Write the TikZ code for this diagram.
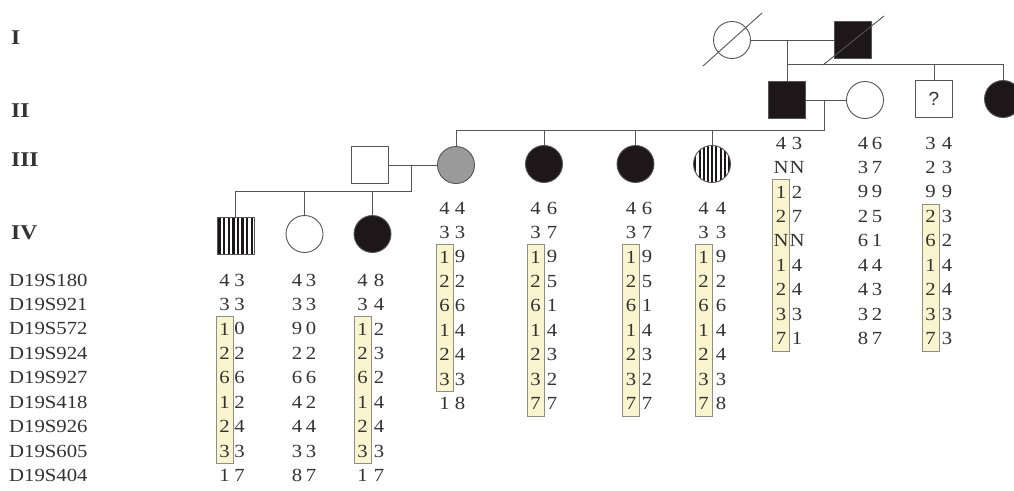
\documentclass[tikz,border=0pt]{standalone}
\usepackage{fontspec}
\setmainfont[FakeStretch=1.12]{Liberation Serif}
\newfontfamily\qfont{Liberation Sans}
\definecolor{lineC}{HTML}{555555}
\definecolor{affC}{HTML}{1E1719}
\definecolor{greyC}{HTML}{9A9A9A}
\definecolor{txtC}{HTML}{333333}
\definecolor{boxF}{HTML}{FAF4CF}
\definecolor{boxD}{HTML}{8E8E84}
\newcommand\hapcol[5]{%
  \foreach \a/\b [count=\i] in {#5} {
    \node[txt] (#1l\i) at (#2, {#4+24.45*(\i-1)}) {\a};
    \node[txt] (#1r\i) at (#3, {#4+24.45*(\i-1)}) {\b};
  }}
\newcommand\hbx[4]{%
  \draw[hbox] ({#1-8.5}, {#2+24.45*(#3-1)-12.5}) rectangle ({#1+8.5}, {#2+24.45*(#4-1)+12.5});}
\begin{document}
\begin{tikzpicture}[x=1pt,y=-1pt,
  ln/.style={draw=lineC, line width=0.9pt},
  sq/.style={rectangle, draw=lineC, line width=0.9pt, minimum size=37pt, inner sep=0pt},
  ci/.style={circle, draw=lineC, line width=0.9pt, minimum size=37pt, inner sep=0pt},
  aff/.style={fill=affC},
  txt/.style={inner sep=0pt, text=txtC, font=\fontsize{18.5}{18.5}\selectfont},
  gen/.style={inner sep=0pt, text=txtC, font=\fontsize{21}{21}\selectfont\bfseries, anchor=west},
  hbox/.style={fill=boxF, draw=boxD, line width=0.7pt}]
\useasboundingbox (0,0) rectangle (1014,490);

% generation labels
\node[gen] (gI) at (11,38) {I};
\node[gen] (gII) at (11,111) {II};
\node[gen] (gIII) at (11,160) {III};
\node[gen] (gIV) at (11,233) {IV};

% marker labels
\foreach \m [count=\i] in {D19S180,D19S921,D19S572,D19S924,D19S927,D19S418,D19S926,D19S605,D19S404}
  \node[txt, anchor=west] (mk\i) at (9, {280+24.45*(\i-1)}) {\m};

% generation I
\node[ci] (I1) at (732,40) {};
\node[sq, aff] (I2) at (853,40) {};
\draw[ln] (703,66) -- (762,13);
\draw[ln] (823,65) -- (884,16);
\coordinate (m1) at (787,40);
\coordinate (s1) at (787,64);
\coordinate (s1r) at (1003,64);
\draw[ln] (I1.east) -- (I2.west);

% generation II
\node[sq, aff] (II1) at (787,100) {};
\node[ci] (II2) at (865,100) {};
\node[sq, font=\qfont\fontsize{19}{19}\selectfont, text=txtC] (II3) at (934,99) {?};
\node[ci, aff] (II4) at (1003,99) {};
\draw[ln] (m1) -- (II1.north);
\draw[ln] (s1) -- (s1r) -- (II4.north);
\draw[ln] (II3.north |- s1) -- (II3.north);
\draw[ln] (II1.east) -- (II2.west);
\coordinate (m2) at (824,100);
\coordinate (s2) at (824,130);
\coordinate (s2l) at (456,130);
\draw[ln] (m2) -- (s2) -- (s2l);

% generation III
\begin{scope}
  \clip (712,164) circle[radius=18.5pt];
  \foreach \i in {0,...,8} \fill[affC] ({694.3+4.2*\i},140) rectangle ++(2.1,48);
\end{scope}
\node[sq] (III1) at (370,165) {};
\node[ci, fill=greyC] (III2) at (456,165) {};
\node[ci, aff] (III3) at (544,164) {};
\node[ci, aff] (III4) at (635.5,164) {};
\node[ci] (III5) at (712,164) {};
\foreach \n in {III2,III3,III4,III5}
  \draw[ln] (\n.north |- s2) -- (\n.north);
\draw[ln] (III1.east) -- (III2.west);
\coordinate (m3) at (411,165);
\coordinate (s3) at (411,191);
\coordinate (s3l) at (235.5,191);
\draw[ln] (m3) -- (s3) -- (s3l);

% generation IV
\begin{scope}
  \clip (217,217) rectangle (254,254);
  \foreach \i in {0,...,7} \fill[affC] ({218.4+4.6*\i},217) rectangle ++(2.4,37);
\end{scope}
\node[sq] (IV1) at (235.5,235.5) {};
\node[ci] (IV2) at (304.5,234) {};
\node[ci, aff] (IV3) at (372.5,234) {};
\foreach \n in {IV1,IV2,IV3}
  \draw[ln] (\n.north |- s3) -- (\n.north);

% haplotype boxes
\hbx{224.5}{280}{3}{8}
\hbx{362.5}{280}{3}{8}
\hbx{444.5}{208}{3}{8}
\hbx{535.5}{208}{3}{9}
\hbx{631}{208}{3}{9}
\hbx{703.5}{208}{3}{9}
\hbx{781}{143}{3}{9}
\hbx{930.5}{143}{4}{9}

% haplotypes
\hapcol{a}{224.5}{239.5}{280}{4/3,3/3,1/0,2/2,6/6,1/2,2/4,3/3,1/7}
\hapcol{b}{297}{311}{280}{4/3,3/3,9/0,2/2,6/6,4/2,4/4,3/3,8/7}
\hapcol{c}{362.5}{379}{280}{4/8,3/4,1/2,2/3,6/2,1/4,2/4,3/3,1/7}
\hapcol{d}{444.5}{460}{208}{4/4,3/3,1/9,2/2,6/6,1/4,2/4,3/3,1/8}
\hapcol{e}{535.5}{552}{208}{4/6,3/7,1/9,2/5,6/1,1/4,2/3,3/2,7/7}
\hapcol{f}{631}{647}{208}{4/6,3/7,1/9,2/5,6/1,1/4,2/3,3/2,7/7}
\hapcol{g}{703.5}{721}{208}{4/4,3/3,1/9,2/2,6/6,1/4,2/4,3/3,7/8}
\hapcol{h}{781}{797}{143}{4/3,N/N,1/2,2/7,N/N,1/4,2/4,3/3,7/1}
\hapcol{k}{863}{877}{143}{4/6,3/7,9/9,2/5,6/1,4/4,4/3,3/2,8/7}
\hapcol{q}{930.5}{947}{143}{3/4,2/3,9/9,2/3,6/2,1/4,2/4,3/3,7/3}
\end{tikzpicture}
\end{document}
